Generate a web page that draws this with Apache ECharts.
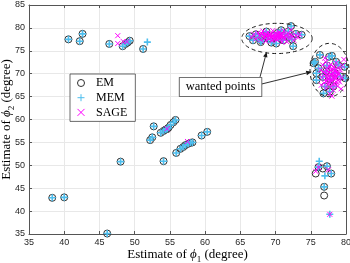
<!DOCTYPE html>
<html><head><meta charset="utf-8">
<script src="https://cdn.jsdelivr.net/npm/echarts@6/dist/echarts.min.js"></script>
<style>html,body{margin:0;padding:0;background:#fff}#c{width:350px;height:263px}</style>
</head><body><div id="c"></div>
<script>
// ---- data ----
const xTicks = [35, 40, 45, 50, 55, 60, 65, 70, 75, 80];
const yTicks = [35, 40, 45, 50, 55, 60, 65, 70, 75, 80, 85];
const seriesNames = ['EM', 'MEM', 'SAGE'];

const emData = [
  [40.6,77.5],[42.2,77.1],[42.6,78.7],[46.4,76.5],[48.3,76.0],[48.7,76.5],[49.0,76.8],[49.3,77.2],[51.2,75.4],
  [52.7,58.5],[52.5,56.1],[52.2,55.5],[53.7,57.1],[54.1,57.5],[54.4,57.8],[54.6,57.9],[54.8,58.2],[55.1,58.8],[55.5,59.4],[55.8,59.9],
  [54.1,50.9],[48.0,50.8],[55.9,52.7],[56.5,53.6],[56.9,54.0],[57.2,54.4],[57.6,54.7],[57.9,54.9],[58.2,55.0],[59.5,56.5],[60.3,57.3],
  [38.3,42.9],[40.0,43.0],[46.1,35.1],
  [76.1,49.6],[77.3,49.8],[77.9,48.2],[76.9,45.3],[75.7,48.2],[76.7,49.3],[76.9,43.4],
  [66.3,78.2],[66.8,77.3],[67.5,78.0],[68.0,77.3],[68.7,79.2],[69.4,76.8],[70.1,76.6],[70.8,79.5],[71.1,77.3],[71.8,78.0],
  [71.8,79.2],[72.2,80.4],[72.5,76.0],[72.9,78.7],[73.7,78.5],[67.2,78.6],[68.4,78.4],[69.0,77.7],[69.8,78.3],[70.5,77.9],
  [71.4,78.6],[72.3,77.5],[67.9,76.9],[70.3,78.9],
  [75.4,72.3],[75.6,72.6],[76.3,74.1],[77.6,73.7],[78.0,73.9],[78.9,71.9],[79.2,69.4],[79.8,71.5],[79.9,69.0],[78.2,67.2],
  [76.8,65.7],[75.8,68.6],[75.8,70.1],[77.7,66.1],[77.0,67.2],[76.1,71.2],[77.2,70.5],[78.4,70.2],[77.8,68.8],[76.7,69.3],
  [78.6,72.6],[77.3,71.8]
];

const memData = [
  [40.6,77.5],[42.2,77.1],[42.6,78.7],[46.4,76.5],[48.3,76.0],[48.7,76.5],[49.0,76.8],[49.3,77.2],[51.2,75.4],[51.8,76.9],
  [52.7,58.5],[52.5,56.1],[52.2,55.5],[53.7,57.1],[54.1,57.5],[54.4,57.8],[54.6,57.9],[54.8,58.2],[55.1,58.8],[55.5,59.4],[55.8,59.9],
  [54.1,50.9],[48.0,50.8],[55.9,52.7],[56.5,53.6],[56.9,54.0],[57.2,54.4],[57.6,54.7],[57.9,54.9],[58.2,55.0],[59.5,56.5],[60.3,57.3],
  [38.3,42.9],[40.0,43.0],[46.1,35.1],
  [76.1,49.6],[77.3,49.8],[77.9,48.2],[76.9,45.3],[76.2,50.9],[77.0,47.7],[77.7,39.3],
  [66.3,78.2],[66.8,77.3],[67.5,78.0],[68.0,77.3],[68.7,79.2],[69.4,76.8],[70.1,76.6],[70.8,79.5],[71.1,77.3],[71.8,78.0],
  [71.8,79.2],[72.2,80.4],[72.5,76.0],[72.9,78.7],[73.7,78.5],[67.2,78.6],[68.4,78.4],[69.0,77.7],[69.8,78.3],[70.5,77.9],
  [71.4,78.6],[72.3,77.5],[67.9,76.9],[70.3,78.9],
  [75.4,72.3],[75.6,72.6],[76.3,74.1],[77.6,73.7],[78.0,73.9],[78.9,71.9],[79.2,69.4],[79.8,71.5],[79.9,69.0],[78.2,67.2],
  [76.8,65.7],[75.8,68.6],[75.8,70.1],[77.7,66.1],[77.0,67.2],[76.1,71.2],[77.2,70.5],[78.4,70.2],[77.8,68.8],[76.7,69.3],
  [78.6,72.6],[77.3,71.8]
];

const sageData = [
  [47.6,78.3],[47.6,76.6],[48.4,77.0],[48.9,77.0],[57.5,55.2],[54.6,58.0],
  [76.1,49.6],[75.7,48.7],[77.5,49.0],[77.7,39.3],
  [66.6,78.0],[66.9,78.6],[67.2,77.6],[67.5,78.9],[67.8,78.2],[67.9,77.4],[68.2,79.3],[68.3,78.6],[68.5,77.8],[68.6,77.1],
  [68.8,78.3],[68.9,79.0],[69.1,77.6],[69.2,78.7],[69.4,78.1],[69.5,77.2],[69.6,79.4],[69.8,78.5],[69.9,77.8],[70.0,78.9],
  [70.2,77.4],[70.3,78.2],[70.5,79.1],[70.6,77.7],[70.8,78.5],[70.9,76.9],[71.0,78.0],[71.2,79.3],[71.3,77.5],[71.5,78.4],
  [71.6,77.0],[71.8,78.8],[72.0,77.8],[72.2,79.6],[72.4,78.2],[72.6,77.3],[72.9,78.4],[73.2,77.9],[73.4,78.6],[68.0,78.8],
  [69.0,77.9],[70.1,78.6],[70.7,78.0],[69.7,77.6],[71.7,78.2],
  [68.4,78.0],[68.7,78.7],[69.1,78.4],[69.3,77.9],[69.6,78.2],[69.9,78.1],[70.2,78.4],[70.4,77.8],[70.6,78.3],[70.9,78.2],
  [71.2,77.8],[71.4,78.1],[68.6,78.4],[70.0,77.6],[70.5,78.6],[71.1,78.6],[69.3,78.5],[72.1,78.4],
  [76.4,70.8],[76.6,69.2],[76.7,71.9],[76.9,68.0],[77.0,70.1],[77.1,72.6],[77.2,66.9],[77.3,69.0],[77.4,71.2],[77.5,67.8],
  [77.6,70.4],[77.7,65.6],[77.8,72.0],[77.9,68.6],[78.0,69.7],[78.1,71.0],[78.2,66.4],[78.3,67.9],[78.4,70.6],[78.5,68.9],
  [78.6,72.4],[78.7,69.5],[78.8,67.3],[78.9,71.3],[79.0,70.0],[79.1,68.2],[79.3,66.7],[79.4,69.1],[79.5,71.8],[79.7,73.1],
  [77.0,73.4],[76.5,67.5],[78.0,65.1],[77.3,70.6],[77.9,70.9],[78.3,69.2],[77.6,68.3],[78.6,70.8],[78.1,67.5],[77.8,69.9],
  [78.9,68.6],[76.8,70.4],[79.2,70.8],
  [77.4,69.6],[77.7,69.2],[78.0,68.4],[78.2,70.1],[78.4,69.6],[78.6,68.2],[77.5,68.9],[77.9,67.2],[78.3,71.5],[77.2,68.3],
  [78.8,69.9],[77.6,71.6],[78.1,69.3],[77.3,70.0],[78.5,67.6],[78.7,70.4]
];

// ---- annotation geometry (data units) ----
const ellipses = [
  {cx: 70.2, cy: 77.7, rx: 5.0, ry: 3.3},
  {cx: 77.66, cy: 70.8, rx: 2.77, ry: 5.83}
];
const arrows = [
  {from: [67.8, 69.3], to: [68.74, 74.8]},
  {from: [68.03, 67.75], to: [75.13, 70.44]}
];
const labelPos = [62.19, 67.1];
const labelText = 'wanted points';

const serif = '"Liberation Serif","Times New Roman",serif';
const sans = '"Liberation Sans",Arial,Helvetica,sans-serif';

const chart = echarts.init(document.getElementById('c'), null, {renderer: 'canvas'});

function axisNameRich() {
  return {
    fontFamily: serif, fontSize: 13, color: '#000',
    rich: {
      t: {fontFamily: serif, fontSize: 13, lineHeight: 18, verticalAlign: 'middle', color: '#000'},
      i: {fontFamily: serif, fontSize: 13, fontStyle: 'italic', lineHeight: 18, verticalAlign: 'middle', color: '#000'},
      s: {fontFamily: serif, fontSize: 9, lineHeight: 18, verticalAlign: 'bottom', color: '#000'}
    }
  };
}

const axisLineColor = '#555';
const baseX = {
  type: 'value', min: xTicks[0], max: xTicks[xTicks.length - 1], interval: 5
};
const baseY = {
  type: 'value', min: yTicks[0], max: yTicks[yTicks.length - 1], interval: 5
};

function annotation(params, api) {
  const children = [];
  ellipses.forEach(e => {
    const c = api.coord([e.cx, e.cy]);
    const s = api.size([e.rx, e.ry]);
    const pts = [];
    for (let k = 0; k <= 96; k++) {
      const a = k / 96 * Math.PI * 2;
      pts.push([c[0] + s[0] * Math.cos(a), c[1] + s[1] * Math.sin(a)]);
    }
    children.push({type: 'polyline', shape: {points: pts},
      style: {stroke: '#1a1a1a', lineWidth: 1, fill: null, lineDash: [4, 3]}});
  });
  arrows.forEach(ar => {
    const p0 = api.coord(ar.from), p1 = api.coord(ar.to);
    const dx = p1[0] - p0[0], dy = p1[1] - p0[1];
    const L = Math.sqrt(dx * dx + dy * dy), ux = dx / L, uy = dy / L;
    const hl = 5.5, hw = 2.2;
    const bx = p1[0] - ux * hl, by = p1[1] - uy * hl;
    children.push({type: 'line', shape: {x1: p0[0], y1: p0[1], x2: bx, y2: by},
      style: {stroke: '#1a1a1a', lineWidth: 0.9}});
    children.push({type: 'polygon', shape: {points: [
      [p1[0], p1[1]], [bx - uy * hw, by + ux * hw], [bx + uy * hw, by - ux * hw]]},
      style: {fill: '#1a1a1a'}});
  });
  const lp = api.coord(labelPos);
  children.push({type: 'text', x: lp[0], y: lp[1], style: {
    text: labelText, font: '12.5px ' + serif, fill: '#000',
    align: 'center', verticalAlign: 'middle',
    backgroundColor: '#fff', borderColor: '#444', borderWidth: 0.8, padding: [3, 6, 2, 6]
  }});
  return {type: 'group', children: children};
}

chart.setOption({
  animation: false,
  backgroundColor: '#fff',
  grid: {left: 29, right: 4, top: 5, bottom: 29, containLabel: false, outerBoundsMode: 'none'},
  legend: {
    data: seriesNames,
    orient: 'vertical', left: 70, top: 74,
    itemWidth: 20, itemHeight: 7, itemGap: 2.7,
    padding: [3, 8, 3, 5],
    backgroundColor: '#fff', borderColor: '#444', borderWidth: 0.8, borderRadius: 0,
    itemStyle: {borderWidth: 1},
    textStyle: {fontFamily: serif, fontSize: 12, color: '#000'},
    selectedMode: false
  },
  xAxis: [
    Object.assign({}, baseX, {
      position: 'bottom',
      name: '{t|Estimate of }{i|ϕ}{s|1}{t| (degree)}',
      nameLocation: 'middle', nameGap: 12, nameMoveOverlap: false,
      nameTextStyle: axisNameRich(),
      axisLine: {show: true, onZero: false, lineStyle: {color: axisLineColor, width: 1}},
      axisTick: {show: true, inside: true, length: 3, lineStyle: {color: axisLineColor}},
      axisLabel: {fontFamily: sans, fontSize: 9, color: '#262626', margin: 4},
      splitLine: {show: true, lineStyle: {color: '#e8e8e8', width: 1}}
    }),
    Object.assign({}, baseX, {
      position: 'top',
      axisLine: {show: true, onZero: false, lineStyle: {color: axisLineColor, width: 1}},
      axisTick: {show: true, inside: true, length: 3, lineStyle: {color: axisLineColor}},
      axisLabel: {show: false}, splitLine: {show: false}
    })
  ],
  yAxis: [
    Object.assign({}, baseY, {
      position: 'left',
      name: '{t|Estimate of }{i|ϕ}{s|2}{t| (degree)}',
      nameLocation: 'middle', nameGap: 13, nameRotate: 90, nameMoveOverlap: false,
      nameTextStyle: axisNameRich(),
      axisLine: {show: true, onZero: false, lineStyle: {color: axisLineColor, width: 1}},
      axisTick: {show: true, inside: true, length: 3, lineStyle: {color: axisLineColor}},
      axisLabel: {fontFamily: sans, fontSize: 9, color: '#262626', margin: 4},
      splitLine: {show: true, lineStyle: {color: '#e8e8e8', width: 1}}
    }),
    Object.assign({}, baseY, {
      position: 'right',
      axisLine: {show: true, onZero: false, lineStyle: {color: axisLineColor, width: 1}},
      axisTick: {show: true, inside: true, length: 3, lineStyle: {color: axisLineColor}},
      axisLabel: {show: false}, splitLine: {show: false}
    })
  ],
  series: [
    {
      name: 'EM', type: 'scatter', data: emData, symbol: 'circle', symbolSize: 7, z: 3,
      itemStyle: {color: 'rgba(255,255,255,0)', borderColor: '#303030', borderWidth: 1, opacity: 1},
      emphasis: {disabled: true}
    },
    {
      name: 'MEM', type: 'scatter', data: memData, symbol: 'path://M5,0L5,10M0,5L10,5', symbolSize: 7, z: 4,
      itemStyle: {color: 'none', borderColor: '#4DBEEE', borderWidth: 1.6, opacity: 1},
      emphasis: {disabled: true}
    },
    {
      name: 'SAGE', type: 'scatter', data: sageData, symbol: 'path://M0,0L10,10M10,0L0,10', symbolSize: 5, z: 5,
      itemStyle: {color: 'none', borderColor: '#FF00FF', borderWidth: 1, opacity: 1},
      emphasis: {disabled: true}
    },
    {
      type: 'custom', data: [0], renderItem: annotation, z: 10, silent: true, clip: false
    }
  ]
});
</script>
</body></html>
